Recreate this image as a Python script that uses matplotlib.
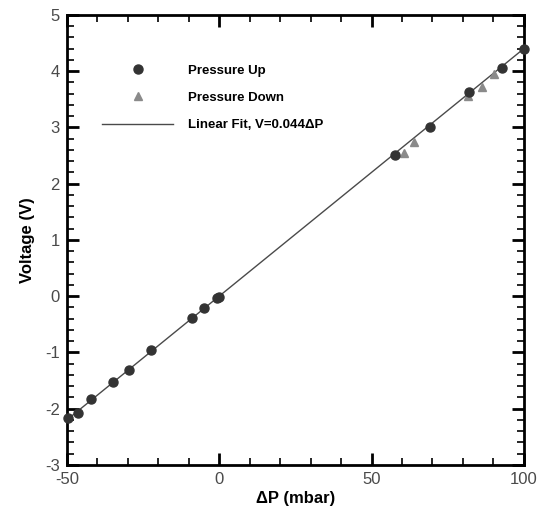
import numpy as np
import matplotlib.pyplot as plt
from matplotlib.ticker import MultipleLocator

# pressure sensor calibration, up and down sweeps
dp_up = [-49.6, -46.5, -42.2, -34.8, -29.6, -22.4, -9.1, -5.0, -0.7, 0.0,
         57.7, 69.1, 82.0, 92.7, 100.0]
v_up = [-2.17, -2.07, -1.83, -1.52, -1.31, -0.96, -0.39, -0.21, -0.03, -0.02,
        2.51, 3.01, 3.62, 4.05, 4.40]

dp_down = [60.8, 63.8, 81.8, 86.2, 90.2]
v_down = [2.55, 2.74, 3.56, 3.71, 3.95]

slope = 0.044
dp_fit = np.array([-50, 100])
v_fit = slope * dp_fit

plt.rcParams['font.family'] = ['Liberation Sans', 'DejaVu Sans']
plt.rcParams['axes.unicode_minus'] = False

fig = plt.figure(figsize=(5.44, 5.12), dpi=100)
ax = fig.add_axes([0.123, 0.092, 0.840, 0.879])

ax.plot(dp_up, v_up, 'o', color='#333333', markersize=6.5, label='Pressure Up',
        zorder=3, clip_on=False)
ax.plot(dp_down, v_down, '^', color='#8a8a8a', markersize=5.5, label='Pressure Down',
        zorder=2, clip_on=False)
ax.plot(dp_fit, v_fit, '-', color='#4a4a4a', linewidth=1.0,
        label='Linear Fit, V=0.044\u0394P', zorder=1)

ax.set_xlim(-50, 100)
ax.set_ylim(-3, 5)
ax.xaxis.set_major_locator(MultipleLocator(50))
ax.xaxis.set_minor_locator(MultipleLocator(10))
ax.yaxis.set_major_locator(MultipleLocator(1))
ax.yaxis.set_minor_locator(MultipleLocator(0.2))
ax.tick_params(which='both', direction='in', top=True, right=True,
               labelsize=12, labelcolor='#4a4a4a', color='black')
ax.tick_params(which='major', length=8.5, width=2)
ax.tick_params(which='minor', length=5, width=1.2)
ax.tick_params(axis='x', which='major', pad=5)
ax.tick_params(axis='y', which='major', pad=5)
for s in ax.spines.values():
    s.set_linewidth(2)

ax.set_xlabel('\u0394P (mbar)', fontsize=12, fontweight='bold', labelpad=3)
ax.set_ylabel('Voltage (V)', fontsize=12, fontweight='bold', labelpad=7)

leg = ax.legend(loc='upper left', bbox_to_anchor=(90 / 544, 1 - 52.5 / 512),
                bbox_transform=fig.transFigure, frameon=False, numpoints=1,
                handlelength=5.4, handletextpad=1.15, labelspacing=1.15,
                prop={'weight': 'bold', 'size': 9.5})

fig.savefig('out.png', dpi=100)
